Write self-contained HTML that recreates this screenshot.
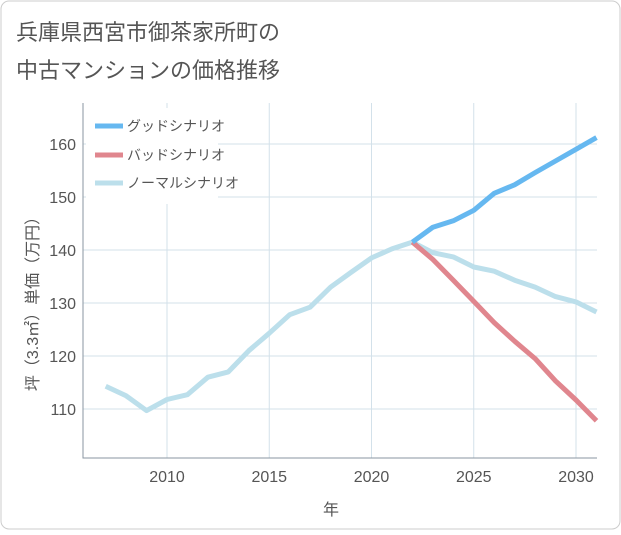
<!DOCTYPE html>
<html><head><meta charset="utf-8"><style>
body{margin:0;background:#fff;font-family:"Liberation Sans","Noto Sans CJK JP",sans-serif;}
#wrap{position:relative;width:621px;height:530px;}
</style></head><body>
<div id="wrap">
<svg id="chart" width="621" height="530" xmlns="http://www.w3.org/2000/svg">
<rect x="1" y="1" width="619" height="528" rx="8" fill="#fff" stroke="#ccc"/>
<text x="16" y="40" font-size="22" fill="#555">兵庫県西宮市御茶家所町の</text>
<text x="16" y="78" font-size="22" fill="#555">中古マンションの価格推移</text>
<g id="grid"></g>
<g id="axes"></g>
<g id="series"></g>
<rect x="86" y="108" width="132" height="96" fill="#fff"/>
<g>
<line x1="95" y1="126" x2="123" y2="126" stroke="#66b8f0" stroke-width="5"/>
<text x="127" y="131" font-size="14" fill="#555">グッドシナリオ</text>
<line x1="95" y1="155" x2="123" y2="155" stroke="#e0868e" stroke-width="5"/>
<text x="127" y="160" font-size="14" fill="#555">バッドシナリオ</text>
<line x1="95" y1="183" x2="123" y2="183" stroke="#bcdfeb" stroke-width="5"/>
<text x="127" y="188" font-size="14" fill="#555">ノーマルシナリオ</text>
</g>
<text x="331" y="515" font-size="16" fill="#555" text-anchor="middle">年</text>
<text transform="translate(38,300) rotate(-90)" font-size="16" fill="#555" text-anchor="middle">坪（3.3㎡）単価（万円）</text>
</svg>
</div>
<script>
const years=[2007,2008,2009,2010,2011,2012,2013,2014,2015,2016,2017,2018,2019,2020,2021,2022,2023,2024,2025,2026,2027,2028,2029,2030,2031];
const normalValues=[114.3,112.5,109.7,111.8,112.7,116,117,121,124.3,127.8,129.2,133,135.8,138.5,140.2,141.5,139.5,138.7,136.8,136,134.3,133,131.2,130.2,128.3];
const goodYears=[2022,2023,2024,2025,2026,2027,2028,2029,2030,2031];
const goodValues=[141.5,144.3,145.5,147.5,150.7,152.3,154.6,156.8,159,161.2];
const badYears=[2022,2023,2024,2025,2026,2027,2028,2029,2030,2031];
const badValues=[141.5,138.2,134.3,130.3,126.3,122.8,119.5,115.3,111.7,107.8];
const xTicks=[2010,2015,2020,2025,2030];
const yTicks=[110,120,130,140,150,160];
const NS="http://www.w3.org/2000/svg";
const L=83,R=597,T=103,B=458;
function xs(v){return 167+(v-2010)*(576-167)/20;}
function ys(v){return 409-(v-110)*(409-144)/50;}
function mk(tag,attrs,parent){const e=document.createElementNS(NS,tag);for(const k in attrs)e.setAttribute(k,attrs[k]);parent.appendChild(e);return e;}
const grid=document.getElementById('grid'),axes=document.getElementById('axes'),series=document.getElementById('series');
xTicks.forEach(t=>{
 const l=mk('line',{x1:xs(t),x2:xs(t),y1:T,y2:B,stroke:'#d3e1ea','stroke-width':1},grid);
 
 
 const tx=mk('text',{x:xs(t),y:482,'font-size':16,fill:'#555','text-anchor':'middle'},axes);
 tx.textContent=t;
 
 
});
yTicks.forEach(t=>{
 const l=mk('line',{x1:L,x2:R,y1:ys(t),y2:ys(t),stroke:'#d3e1ea','stroke-width':1},grid);
 
 
 const tx=mk('text',{x:76,y:ys(t)+6,'font-size':16,fill:'#555','text-anchor':'end'},axes);
 tx.textContent=t;
 
 
});
const ax=mk('path',{d:`M${L},${T}V${B}H${R}`,fill:'none',stroke:'#8a96a0','stroke-width':1},axes);


function line(xv,yv,color,name){
 const d=xv.map((x,i)=>(i?'L':'M')+xs(x).toFixed(1)+','+ys(yv[i]).toFixed(1)).join('');
 const p=mk('path',{d:d,fill:'none',stroke:color,'stroke-width':5,'stroke-linejoin':'round'},series);
 
 
}
line(years,normalValues,'#bcdfeb','normal-scenario-line');
line(badYears,badValues,'#e0868e','bad-scenario-line');
line(goodYears,goodValues,'#66b8f0','good-scenario-line');
</script>
</body></html>
